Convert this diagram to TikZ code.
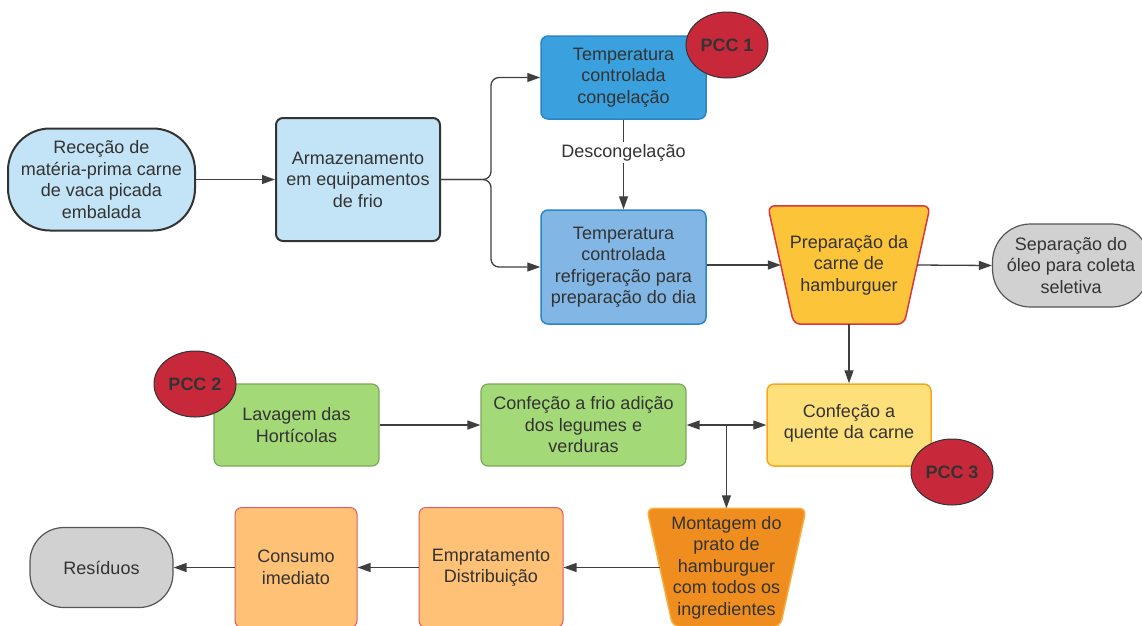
\documentclass[tikz,border=0pt]{standalone}
\usepackage{fontspec}
\setmainfont{Liberation Sans}
\usetikzlibrary{shapes.geometric,arrows.meta,calc,backgrounds}
\definecolor{txt}{HTML}{333333}
\definecolor{ln}{HTML}{3F3F3F}
\definecolor{lb}{HTML}{C3E4F6}
\definecolor{bl}{HTML}{3AA1DE}
\definecolor{blb}{HTML}{2A86C4}
\definecolor{mb}{HTML}{82B7E5}
\definecolor{pccred}{HTML}{C8293A}
\definecolor{yel}{HTML}{FCC438}
\definecolor{yelb}{HTML}{D9363F}
\definecolor{gry}{HTML}{D1D1D1}
\definecolor{gryb}{HTML}{555555}
\definecolor{lyel}{HTML}{FEE07B}
\definecolor{lyelb}{HTML}{F6A623}
\definecolor{grn}{HTML}{A4D977}
\definecolor{grnb}{HTML}{7DA85C}
\definecolor{org}{HTML}{EF8E1F}
\definecolor{orgb}{HTML}{F6AE3C}
\definecolor{lorg}{HTML}{FEC176}
\definecolor{lorgb}{HTML}{E05A5F}
\tikzset{
  box/.style={rectangle, rounded corners=7, align=center, inner sep=0pt, text=txt,
    font=\fontsize{18}{21.5}\selectfont},
  pcc/.style={ellipse, fill=pccred, draw=txt, line width=1pt, minimum width=82, minimum height=66,
    inner sep=0pt, text=txt, font=\fontsize{18}{21.5}\selectfont\bfseries},
  arr/.style={draw=ln, line width=1.3pt, -{Triangle[length=13pt,width=9pt]}},
}
\begin{document}
\begin{tikzpicture}[x=1pt,y=-1pt]
\useasboundingbox (0,0) rectangle (1142,625);
\clip (0,0) rectangle (1142,625);
% nodes
\node[box, fill=lb, draw=txt, line width=2pt, rounded corners=42, minimum width=187, minimum height=102] (rec) at (101.5,179.5) {Receção de\\matéria-prima carne\\de vaca picada\\embalada};
\node[box, fill=lb, draw=txt, line width=2pt, minimum width=164, minimum height=123] (arm) at (358,179.5) {Armazenamento\\em equipamentos\\de frio};
\node[box, fill=bl, draw=blb, line width=1.5pt, minimum width=165, minimum height=83] (cong) at (623.5,77.5) {Temperatura\\controlada\\congelação};
\node[box, fill=mb, draw=blb, line width=1.5pt, minimum width=165, minimum height=114] (refr) at (623.5,267) {Temperatura\\controlada\\refrigeração para\\preparação do dia};
\node[box, minimum width=162, minimum height=118] (prep) at (849,265) {Preparação da\\carne de\\hamburguer};
\node[box, fill=gry, draw=gryb, line width=1.2pt, rounded corners=38, minimum width=157, minimum height=83] (sep) at (1071,265.5) {Separação do\\óleo para coleta\\seletiva};
\node[box, fill=lyel, draw=lyelb, line width=1.5pt, minimum width=164, minimum height=82] (quente) at (849,425) {Confeção a\\quente da carne\\[-14pt]};
\node[box, fill=grn, draw=grnb, line width=1.2pt, minimum width=205, minimum height=82] (frio) at (583.5,425) {Confeção a frio adição\\dos legumes e\\verduras};
\node[box, fill=grn, draw=grnb, line width=1.2pt, minimum width=165, minimum height=82] (lav) at (296.5,425) {Lavagem das\\Hortícolas};
\node[box, minimum width=159, minimum height=118] (mont) at (726.5,567.5) {Montagem do\\prato de\\hamburguer\\com todos os\\ingredientes};
\node[box, fill=lorg, draw=lorgb, line width=1pt, minimum width=144, minimum height=120] (emp) at (491,567.5) {Empratamento\\Distribuição};
\node[box, fill=lorg, draw=lorgb, line width=1pt, minimum width=122, minimum height=120] (cons) at (296,567.5) {Consumo\\imediato};
\node[box, fill=gry, draw=gryb, line width=1.2pt, rounded corners=34, minimum width=143, minimum height=80] (res) at (101.5,567.5) {Resíduos};
% trapezoid outlines behind their text
\begin{scope}[on background layer]
\filldraw[fill=yel, draw=yelb, line width=1.5pt, rounded corners=7]
  (prep.north west) -- (prep.north east) -- ([xshift=-26]prep.south east) -- ([xshift=26]prep.south west) -- cycle;
\filldraw[fill=org, draw=orgb, line width=1.5pt, rounded corners=7]
  (mont.north west) -- (mont.north east) -- ([xshift=-26]mont.south east) -- ([xshift=26]mont.south west) -- cycle;
\end{scope}
% PCC markers
\node[pcc] (pcc1) at (727,45) {PCC 1};
\node[pcc] (pcc2) at (195,384) {PCC 2};
\node[pcc] (pcc3) at (952,472) {PCC 3};
% connectors
\draw[arr] (rec.east) -- (arm.west);
\draw[arr, rounded corners=8] (arm.east) -- ++(50,0) |- (cong.west);
\draw[arr, rounded corners=8] (arm.east) -- ++(50,0) |- (refr.west);
\draw[arr] (cong.south) -- node[fill=white, inner sep=2pt, text=txt, font=\fontsize{18}{21.5}\selectfont, pos=0.37] (lbl) {Descongelação} (refr.north);
\draw[arr] (refr.east |- prep.west) -- ([xshift=13]prep.west);
\draw[arr] ([xshift=-13]prep.east) -- (sep.west);
\draw[arr] (prep.south) -- (quente.north);
\draw[arr] (lav.east) -- (frio.west);
\coordinate (j) at ($(frio.east)!0.5!(quente.west)$);
\draw[arr] (j) -- (frio.east);
\draw[arr] (j) -- (quente.west);
\draw[arr] (j) -- (j |- mont.north);
\draw[arr] ([xshift=13]mont.west) -- (emp.east);
\draw[arr] (emp.west) -- (cons.east);
\draw[arr] (cons.west) -- (res.east);
\end{tikzpicture}
\end{document}
